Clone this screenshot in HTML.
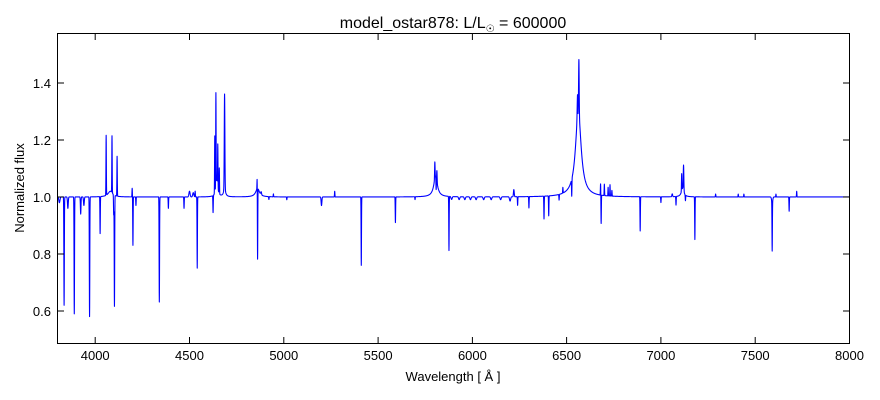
<!DOCTYPE html>
<html><head><meta charset="utf-8"><style>
body{margin:0;background:#fff;width:880px;height:400px;overflow:hidden}
svg{display:block;font-family:"Liberation Sans","DejaVu Sans",sans-serif}
</style></head><body>
<svg id="s" width="880" height="400" xmlns="http://www.w3.org/2000/svg">
<rect width="880" height="400" fill="#fff"/>
<path id="spec" d="" fill="none" stroke="#0000ff" stroke-width="1.1" stroke-linejoin="round"/>
<rect x="57.5" y="33.5" width="792" height="310" fill="none" stroke="#000" stroke-width="1"/>
<g id="ticks" stroke="#000" stroke-width="1"></g>
<g id="labels" font-size="13" fill="#000"></g>
<text x="453" y="28" font-size="16" text-anchor="middle">model_ostar878: L/L<tspan font-size="10" dy="4">☉</tspan><tspan dy="-4"> = 600000</tspan></text>
<text x="453" y="381" font-size="13" text-anchor="middle">Wavelength [ Å ]</text>
<text transform="translate(24,188) rotate(-90)" font-size="13" text-anchor="middle">Normalized flux</text>
</svg>
<script>
function X(w){return 57.5+(w-3800)*0.18857;}
function Y(f){return 197-(f-1)*285;}
var t=document.getElementById('ticks'),l=document.getElementById('labels'),h='',g='';
for(var w=4000;w<=8000;w+=500){var x=X(w).toFixed(1);h+='<line x1="'+x+'" y1="343.5" x2="'+x+'" y2="337"/><line x1="'+x+'" y1="33.5" x2="'+x+'" y2="40"/>';g+='<text x="'+x+'" y="360" text-anchor="middle">'+w+'</text>';}
for(var f=0.6;f<1.45;f+=0.2){var y=Y(f).toFixed(1);h+='<line x1="57.5" y1="'+y+'" x2="64" y2="'+y+'"/><line x1="849.5" y1="'+y+'" x2="843" y2="'+y+'"/>';g+='<text x="51" y="'+(+y+5)+'" text-anchor="end">'+f.toFixed(1)+'</text>';}
t.innerHTML=h;l.innerHTML=g;
var F=[[3810,-0.02,3,0],[3835,-0.38,1.2,0],[3855,-0.04,2,0],[3889,-0.41,1.2,0],[3923,-0.06,1.5,0],[3940,-0.03,2,0],[3970,-0.42,1.2,0],[4026,-0.13,1,0],[4058,0.21,1,0],[4089,0.2,1,0],[4080,0.02,15,1],
[4102,-0.39,1.2,0],[4098,-0.07,1,0],[4116,0.14,1,0],[4200,-0.17,1,0],[4196,0.03,1,0],[4216,-0.03,1,0],[4340,-0.37,1.2,0],[4338,0.01,1,0],[4388,-0.04,1,0],[4471,-0.04,1,0],[4500,0.02,3,0],[4520,0.015,3,0],[4541,-0.25,1,0],[4530,0.02,1,0],
[4625,-0.06,1,0],[4634,0.2,1,0],[4640,0.33,1,0],[4650,0.15,1,0],[4658,0.09,1,0],[4645,0.06,6,1],[4686,0.33,1.6,0],[4686,0.03,6,1],[4861,-0.255,1,0],[4859,0.05,1,0],[4861,0.03,12,1],[4880,0.01,2,0],[4921,-0.01,1,0],[4945,0.01,1,0],[5016,-0.01,1,0],
[5200,-0.03,2,0],[5270,0.02,1,0],[5411,-0.24,1,0],[5592,-0.09,1,0],[5696,-0.01,1,0],[5801,0.06,1.2,0],[5812,0.04,1.2,0],[5805,0.07,12,1],[5808,-0.04,1,0],[5876,-0.19,1,0],[5890,-0.01,3,0],
[5930,-0.01,3,0],[5960,-0.01,3,0],[5990,-0.01,3,0],[6020,-0.01,3,0],[6060,-0.01,3,0],[6100,-0.01,3,0],[6150,-0.01,3,0],[6200,-0.015,3,0],[6220,0.025,2,0],[6240,-0.03,1,0],[6300,-0.04,1,0],[6380,-0.08,1,0],[6405,-0.07,1,0],[6460,-0.02,1,0],[6480,0.02,1,0],[6527,-0.06,1,0],
[6562,0.3,18,1],[6558,0.08,2,0],[6565,0.19,1.5,0],[6560,-0.05,1,0],[6680,0.04,1,0],[6683,-0.1,1,0],[6700,0.04,1,0],[6720,0.03,1,0],[6730,0.04,1,0],[6740,0.02,1,0],[6890,-0.12,1,0],[7000,-0.02,1,0],[7060,0.01,2,0],[7080,-0.03,1,0],
[7110,0.06,1,0],[7120,0.09,1.5,0],[7115,0.03,8,1],[7130,-0.02,1,0],[7180,-0.15,1,0],[7290,0.01,1,0],[7410,0.01,1,0],[7440,0.01,1,0],[7590,-0.17,1,0],[7590,-0.02,3,0],[7610,0.01,1,0],[7680,-0.05,1,0],[7720,0.02,1,0]];
var d='';
for(var w=3800;w<=8000;w+=0.5){var f=1;
for(var i=0;i<F.length;i++){var a=F[i],u=(w-a[0])/a[2];if(a[3]==0){if(Math.abs(u)<6)f+=a[1]*Math.exp(-u*u/2);}else f+=a[1]/(1+u*u);}
d+=(d?'L':'M')+X(w).toFixed(2)+' '+Y(f).toFixed(2);}
document.getElementById('spec').setAttribute('d',d);
</script>
</body></html>
